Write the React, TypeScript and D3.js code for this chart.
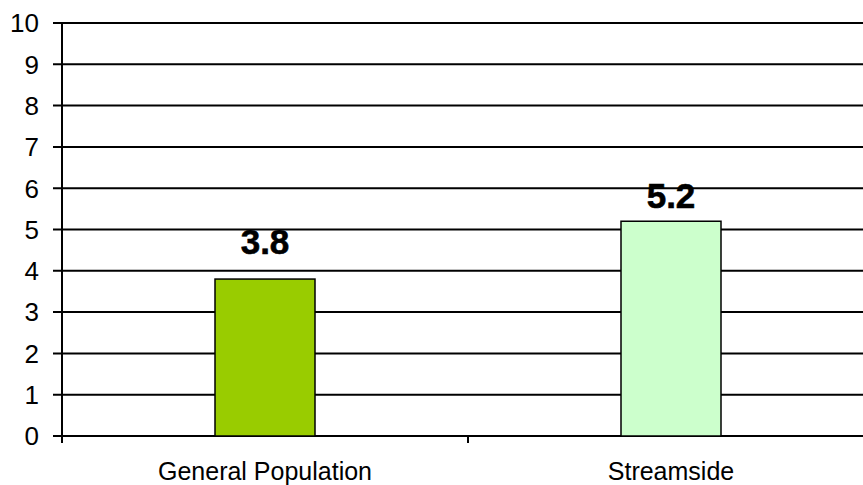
import React from "react";
import * as d3 from "d3";

const categories = ["General Population", "Streamside"];
const values = [3.8, 5.2];
const barColors = ["#99CC00", "#CCFFCC"];
const yTicks = [0, 1, 2, 3, 4, 5, 6, 7, 8, 9, 10];

const W = 863;
const H = 485;
const plot = { left: 62, right: 874, top: 23, bottom: 436 };
// distance from bar top to the value label's baseline
const labelGap = [25, 13];

export default function App() {
  const x = d3
    .scaleBand<string>()
    .domain(categories)
    .range([plot.left, plot.right])
    .paddingInner(0)
    .paddingOuter(0);
  const y = d3.scaleLinear().domain([0, 10]).range([plot.bottom, plot.top]);
  const barW = 100;
  const font = "'Liberation Sans', Arial, sans-serif";

  return (
    <svg
      width={W}
      height={H}
      style={{ position: "absolute", left: 0, top: 0, background: "#fff" }}
      fontFamily={font}
    >
      {/* horizontal gridlines */}
      {yTicks.map((t) => (
        <line
          key={"g" + t}
          x1={plot.left - 9}
          x2={W}
          y1={y(t)}
          y2={y(t)}
          stroke="#000"
          strokeWidth={2}
        />
      ))}
      {/* y tick labels */}
      {yTicks.map((t) => (
        <text
          key={"t" + t}
          x={39}
          y={y(t)}
          dy="0.36em"
          textAnchor="end"
          fontSize={26}
          fill="#000"
        >
          {t}
        </text>
      ))}
      {/* y axis */}
      <line
        x1={plot.left}
        x2={plot.left}
        y1={plot.top}
        y2={plot.bottom + 7}
        stroke="#000"
        strokeWidth={2}
      />
      {/* category tick marks */}
      {categories.map((c) => (
        <line
          key={"ct" + c}
          x1={(x(c) as number) + x.bandwidth()}
          x2={(x(c) as number) + x.bandwidth()}
          y1={plot.bottom}
          y2={plot.bottom + 7}
          stroke="#000"
          strokeWidth={2}
        />
      ))}
      {/* bars */}
      {categories.map((c, i) => {
        const cx = (x(c) as number) + x.bandwidth() / 2;
        return (
          <g key={"b" + c}>
            <rect
              x={cx - barW / 2}
              y={y(values[i])}
              width={barW}
              height={y(0) - y(values[i])}
              fill={barColors[i]}
              stroke="#000"
              strokeWidth={1.5}
            />
            <text
              x={cx}
              y={y(values[i]) - labelGap[i]}
              textAnchor="middle"
              fontSize={35}
              fontWeight="bold"
              fill="#000"
              stroke="#000"
              strokeWidth={0.6}
            >
              {values[i].toFixed(1)}
            </text>
            <text
              x={cx}
              y={480}
              textAnchor="middle"
              fontSize={25}
              fill="#000"
            >
              {c}
            </text>
          </g>
        );
      })}
    </svg>
  );
}
